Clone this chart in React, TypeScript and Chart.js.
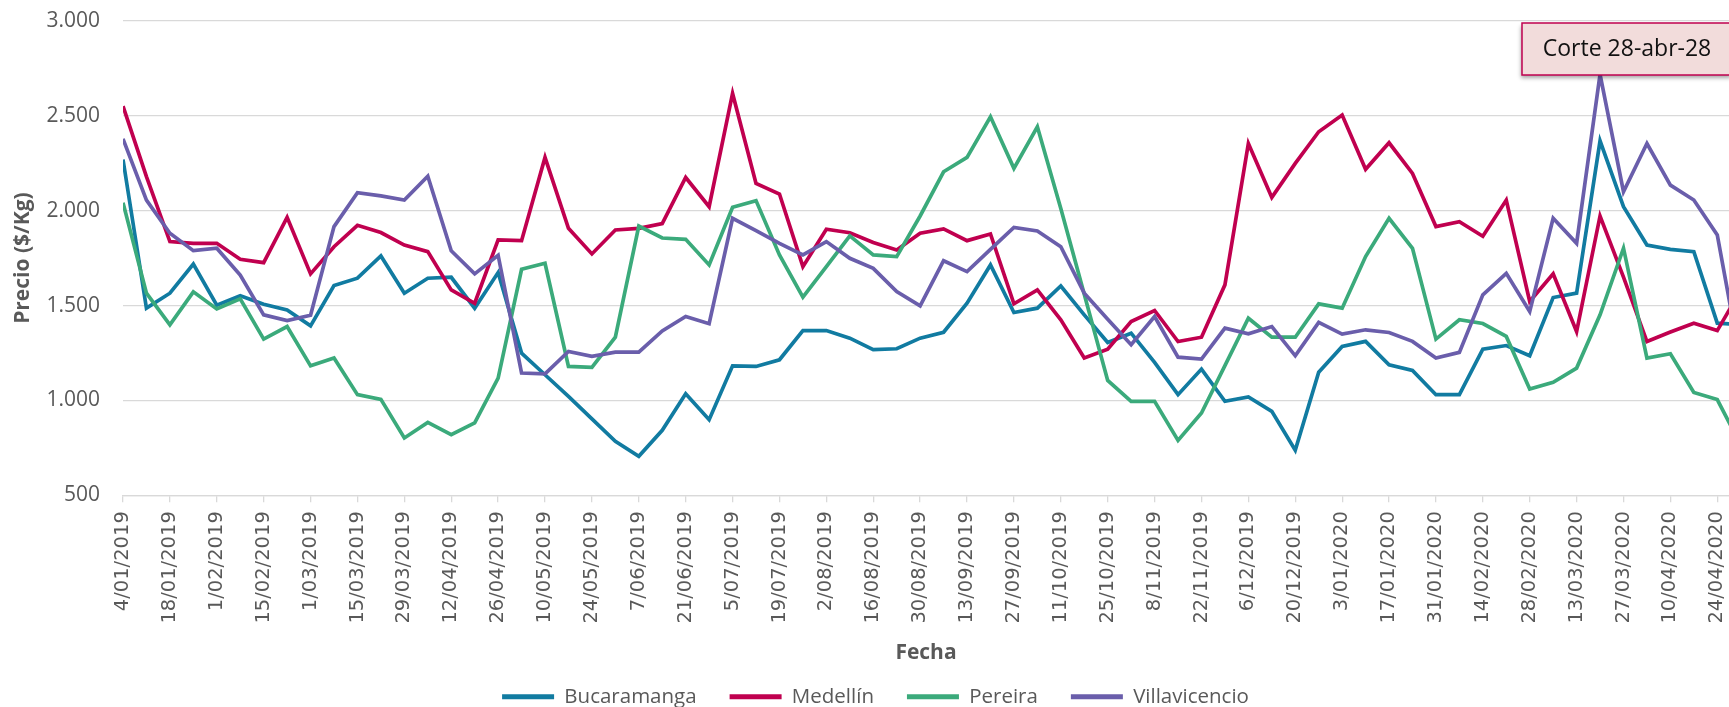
import React, { useEffect, useRef } from 'react';
import { Chart, registerables } from 'chart.js';

Chart.register(...registerables);

// Weekly dates (x categories)
const dates: string[] = [
  '4/01/2019', '11/01/2019', '18/01/2019', '25/01/2019', '1/02/2019', '8/02/2019', '15/02/2019', '22/02/2019',
  '1/03/2019', '8/03/2019', '15/03/2019', '22/03/2019', '29/03/2019', '5/04/2019', '12/04/2019', '19/04/2019',
  '26/04/2019', '3/05/2019', '10/05/2019', '17/05/2019', '24/05/2019', '31/05/2019', '7/06/2019', '14/06/2019',
  '21/06/2019', '28/06/2019', '5/07/2019', '12/07/2019', '19/07/2019', '26/07/2019', '2/08/2019', '9/08/2019',
  '16/08/2019', '23/08/2019', '30/08/2019', '6/09/2019', '13/09/2019', '20/09/2019', '27/09/2019', '4/10/2019',
  '11/10/2019', '18/10/2019', '25/10/2019', '1/11/2019', '8/11/2019', '15/11/2019', '22/11/2019', '29/11/2019',
  '6/12/2019', '13/12/2019', '20/12/2019', '27/12/2019', '3/01/2020', '10/01/2020', '17/01/2020', '24/01/2020',
  '31/01/2020', '7/02/2020', '14/02/2020', '21/02/2020', '28/02/2020', '6/03/2020', '13/03/2020', '20/03/2020',
  '27/03/2020', '3/04/2020', '10/04/2020', '17/04/2020', '24/04/2020', '1/05/2020',
];

const bucaramanga: number[] = [
  2270, 1486, 1565, 1719, 1502, 1551, 1507, 1477, 1393, 1605, 1644, 1761, 1565, 1644, 1649, 1486,
  1674, 1249, 1135, 1021, 902, 784, 705, 842, 1035, 898, 1182, 1179, 1214, 1368, 1368, 1328,
  1267, 1272, 1328, 1359, 1512, 1714, 1463, 1486, 1603, 1451, 1305, 1354, 1200, 1030, 1165, 995,
  1018, 942, 737, 1148, 1284, 1311, 1188, 1158, 1030, 1030, 1270, 1289, 1235, 1542, 1565, 2368,
  2021, 1819, 1796, 1784, 1407, 1400,
];

const medellin: number[] = [
  2551, 2180, 1837, 1828, 1828, 1744, 1726, 1965, 1667, 1810, 1923, 1885, 1819, 1784, 1582, 1512,
  1846, 1842, 2281, 1907, 1772, 1898, 1907, 1932, 2175, 2021, 2618, 2144, 2088, 1705, 1902, 1884,
  1832, 1793, 1881, 1904, 1842, 1877, 1509, 1582, 1425, 1223, 1270, 1416, 1474, 1310, 1333, 1609,
  2354, 2070, 2249, 2416, 2504, 2218, 2358, 2196, 1916, 1942, 1865, 2056, 1521, 1667, 1363, 1972,
  1650, 1310, 1360, 1407, 1368, 1580,
];

const pereira: number[] = [
  2042, 1565, 1398, 1572, 1482, 1535, 1323, 1389, 1182, 1223, 1030, 1005, 802, 884, 819, 881,
  1117, 1691, 1723, 1179, 1174, 1333, 1919, 1856, 1849, 1714, 2018, 2053, 1767, 1544, 1705, 1867,
  1767, 1758, 1972, 2205, 2281, 2495, 2223, 2442, 2012, 1560, 1105, 995, 995, 789, 933, 1183,
  1433, 1333, 1333, 1509, 1486, 1758, 1960, 1802, 1323, 1425, 1405, 1337, 1060, 1095, 1170, 1451,
  1802, 1223, 1246, 1042, 1004, 765,
];

const villavicencio: number[] = [
  2379, 2056, 1881, 1789, 1802, 1661, 1451, 1421, 1449, 1916, 2095, 2078, 2056, 2182, 1789, 1667,
  1765, 1144, 1140, 1258, 1232, 1254, 1254, 1366, 1442, 1404, 1960, 1895, 1828, 1767, 1837, 1749,
  1696, 1574, 1498, 1736, 1679, 1796, 1912, 1893, 1810, 1565, 1428, 1293, 1442, 1228, 1218, 1381,
  1351, 1389, 1235, 1411, 1349, 1372, 1358, 1311, 1223, 1253, 1556, 1670, 1468, 1960, 1828, 2719,
  2100, 2354, 2135, 2056, 1872, 1200,
];

const seriesNames: string[] = ['Bucaramanga', 'Medellín', 'Pereira', 'Villavicencio'];
const seriesColors: string[] = ['#117BA1', '#C0004F', '#3BAA7B', '#6A5EAB'];
const yMin = 500;
const yMax = 3000;
const yStep = 500;
const xStep = 2;
const xMaxWeek = 68.5;
const annotationText = 'Corte 28-abr-28';

const fmtThousands = (v: number): string =>
  v >= 1000 ? `${Math.floor(v / 1000)}.${String(v % 1000).padStart(3, '0')}` : String(v);

export default function App() {
  const ref = useRef<HTMLCanvasElement>(null);

  useEffect(() => {
    document.body.style.margin = '0';
    const series = [bucaramanga, medellin, pereira, villavicencio];

    const annotationPlugin = {
      id: 'corteBox',
      afterDraw(chart: any) {
        const ctx = chart.ctx as CanvasRenderingContext2D;
        const x0 = 1522, y0 = 23, w = 210, h = 52;
        ctx.save();
        ctx.shadowColor = 'rgba(0,0,0,0.35)';
        ctx.shadowBlur = 4;
        ctx.shadowOffsetX = -1;
        ctx.shadowOffsetY = 3;
        ctx.fillStyle = '#F2DCDB';
        ctx.fillRect(x0, y0, w, h);
        ctx.shadowColor = 'transparent';
        ctx.strokeStyle = '#C0004F';
        ctx.lineWidth = 1.5;
        ctx.strokeRect(x0, y0, w, h);
        ctx.fillStyle = '#111111';
        ctx.font = '23px "Open Sans"';
        ctx.textAlign = 'center';
        ctx.textBaseline = 'middle';
        ctx.fillText(annotationText, x0 + 105, y0 + 26);
        ctx.restore();
      },
    };

    const defaultLabels = Chart.defaults.plugins.legend.labels.generateLabels;

    const chart = new Chart(ref.current!, {
      type: 'line',
      data: {
        datasets: series.map((s, k) => ({
          label: seriesNames[k],
          data: s.map((y, i) => ({ x: i, y })),
          borderColor: seriesColors[k],
          backgroundColor: seriesColors[k],
          borderWidth: 3.7,
          pointRadius: 0,
          pointHoverRadius: 0,
          tension: 0,
          order: 3 - k,
        })),
      },
      options: {
        responsive: false,
        animation: false,
        layout: { padding: { top: 21, left: 22, right: 0, bottom: -10 } },
        font: { family: '"Open Sans"' },
        plugins: {
          tooltip: { enabled: false },
          legend: {
            position: 'bottom',
            align: 'center',
            labels: {
              usePointStyle: true,
              pointStyle: 'line',
              pointStyleWidth: 52,
              padding: 33,
              color: '#595959',
              font: { family: '"Open Sans"', size: 20.5 },
              generateLabels: (c: any) =>
                defaultLabels(c)
                  .sort((a: any, b: any) => a.datasetIndex - b.datasetIndex)
                  .map((item: any) => ({ ...item, lineWidth: 5, pointStyle: 'line' })),
            },
          },
        },
        scales: {
          x: {
            type: 'linear',
            min: 0,
            max: xMaxWeek,
            afterFit: (scale: any) => {
              scale.height = 158.3;
              scale.paddingRight = 0;
              scale.paddingLeft = 0;
            },
            grid: {
              drawOnChartArea: false,
              drawTicks: true,
              tickLength: 7,
              tickColor: '#D9D9D9',
              lineWidth: 1.3,
            },
            border: { display: true, color: '#D9D9D9', width: 1.3 },
            ticks: {
              stepSize: xStep,
              includeBounds: false,
              autoSkip: false,
              maxRotation: 90,
              minRotation: 90,
              padding: 9,
              color: '#595959',
              font: { family: '"DejaVu Sans"', size: 19.5 },
              callback: (v: any) => dates[Number(v)] ?? '',
            },
            title: {
              display: true,
              text: 'Fecha',
              color: '#595959',
              font: { family: '"Open Sans"', size: 21, weight: 'bold', lineHeight: 1.2 },
              padding: { top: 0, bottom: -12 },
            },
          },
          y: {
            min: yMin,
            max: yMax,
            afterFit: (scale: any) => {
              scale.width = 101;
              scale.paddingTop = 0;
              scale.paddingBottom = 0;
            },
            grid: { color: '#D9D9D9', lineWidth: 1.3, drawTicks: false },
            border: { display: false },
            ticks: {
              stepSize: yStep,
              padding: 23,
              color: '#595959',
              font: { family: '"Open Sans"', size: 21 },
              callback: (v: any) => fmtThousands(Number(v)),
            },
            title: {
              display: true,
              text: 'Precio ($/Kg)',
              color: '#595959',
              font: { family: '"Open Sans"', size: 21, weight: 'bold', lineHeight: 1.2 },
              padding: { top: -11.6, bottom: 0 },
            },
          },
        },
      },
      plugins: [annotationPlugin],
    } as any);

    return () => chart.destroy();
  }, []);

  return (
    <div style={{ width: 1729, height: 707 }}>
      <canvas ref={ref} width={1729} height={707} style={{ display: 'block' }} />
    </div>
  );
}
